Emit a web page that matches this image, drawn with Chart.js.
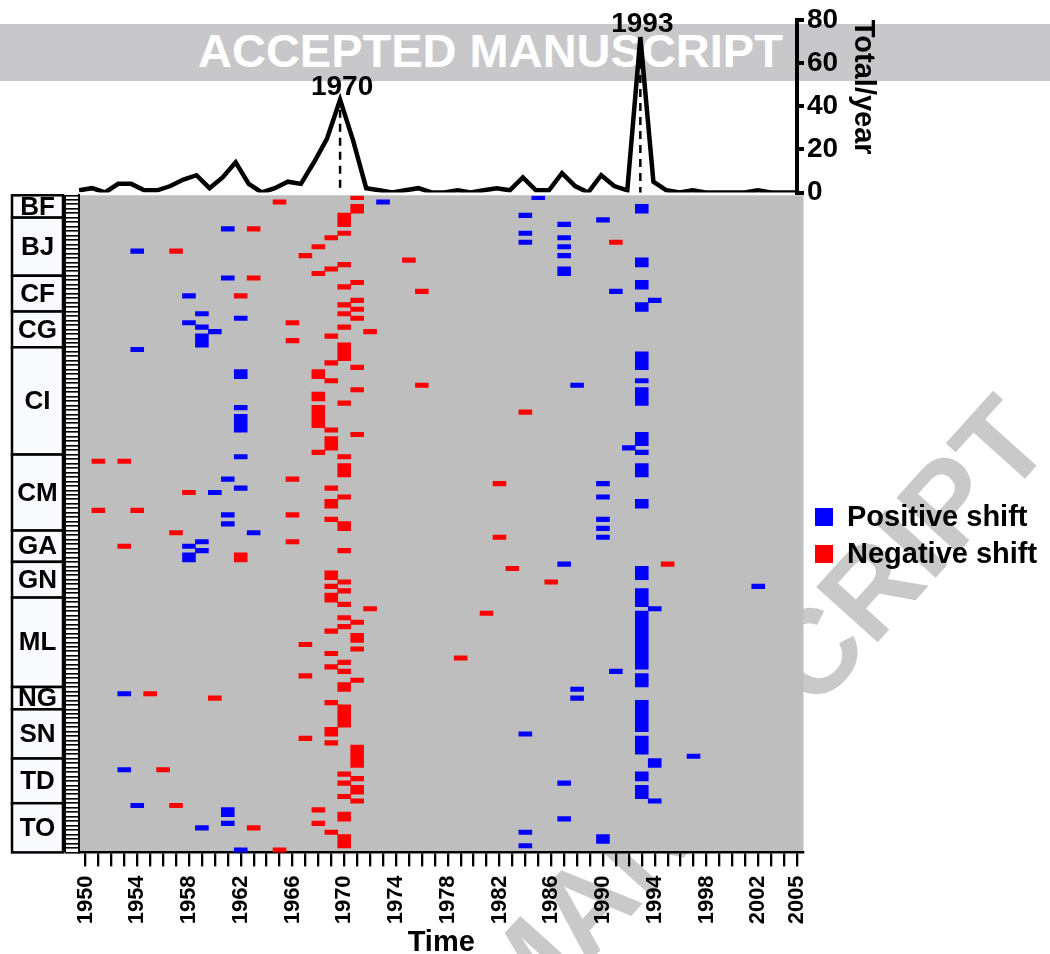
<!DOCTYPE html>
<html>
<head>
<meta charset="utf-8">
<script src="https://cdn.jsdelivr.net/npm/chart.js@4.4.1/dist/chart.umd.min.js"></script>
<style>
html,body{margin:0;padding:0;background:#fff;overflow:hidden;width:1050px;height:954px;position:relative;font-family:"Liberation Sans",Arial,sans-serif;}
#band{position:absolute;left:0;top:24px;width:1050px;height:57px;background:#c8c8ca;}
#band span{position:absolute;left:198px;top:-2px;line-height:57px;font-weight:bold;font-size:47px;color:#fff;white-space:nowrap;}
#diag{position:absolute;left:1024px;top:417px;width:0;height:0;transform:rotate(-48deg);transform-origin:0 0;}
#diag span{position:absolute;right:0;top:-60px;line-height:120px;font-size:120px;font-weight:bold;color:#c9c9c9;white-space:nowrap;}
canvas{position:absolute;left:0;top:0;}
</style>
</head>
<body>
<div id="band"><span>ACCEPTED MANUSCRIPT</span></div>
<div id="diag"><span>ACCEPTED MANUSCRIPT</span></div>
<canvas id="main" width="1050" height="990"></canvas>
<canvas id="top" width="1050" height="215"></canvas>
<script>
// ---------------- DATA ----------------
const countries = ['BF','BJ','CF','CG','CI','CM','GA','GN','ML','NG','SN','TD','TO'];
const stationsPerCountry = [5,13,8,8,24,17,7,8,20,5,11,10,11];

const totalYears = [1950,1951,1952,1953,1954,1955,1956,1957,1958,1959,1960,1961,1962,1963,1964,1965,1966,1967,1968,1969,
  1970,1971,1972,1973,1974,1975,1976,1977,1978,1979,1980,1981,1982,1983,1984,1985,1986,1987,1988,1989,
  1990,1991,1992,1993,1994,1995,1996,1997,1998,1999,2000,2001,2002,2003,2004,2005];
const totalPerYear = [1,2,0,4,4,1,1,3,6,8,2,7,14,4,0,2,5,4,14,25,
  43,24,2,1,0,1,2,0,0,1,0,1,2,1,7,1,1,9,3,0,
  8,3,1,72,5,1,0,1,0,0,0,0,1,0,0,0];

const tickLabelYears = [1950,1954,1958,1962,1966,1970,1974,1978,1982,1986,1990,1994,1998,2002,2005];
const peakYears = [1970, 1993];

// [year, first station row, last station row]
const positiveShifts = [
  [1973,1,1],[1961,7,7],[1954,12,12],[1961,18,18],[1958,22,22],[1959,26,26],[1962,27,27],[1958,28,28],
  [1959,29,29],[1960,30,30],[1959,31,33],[1954,34,34],[1962,39,40],[1962,47,47],[1962,49,52],[1962,58,58],
  [1961,63,63],[1962,65,65],[1960,66,66],[1961,71,71],[1961,73,73],[1963,75,75],[1959,77,77],[1958,78,78],
  [1959,79,79],[1958,80,81],[1953,111,111],[1953,128,128],[1954,136,136],[1961,137,138],[1961,140,140],
  [1959,141,141],[1962,146,146],
  [1985,0,0],[1993,2,3],[1984,4,4],[1990,5,5],[1987,6,6],[1984,8,8],[1987,9,9],[1984,10,10],[1987,11,11],
  [1987,13,13],[1993,14,15],[1987,16,17],[1993,19,20],[1991,21,21],[1994,23,23],[1993,24,25],[1993,35,38],
  [1993,41,41],[1988,42,42],[1993,43,46],[1993,53,55],[1992,56,56],[1993,57,57],[1993,60,62],[1990,64,64],
  [1990,67,67],[1993,68,69],[1990,72,72],[1990,74,74],[1990,76,76],[1987,82,82],[1993,83,85],[2002,87,87],
  [1993,88,91],[1994,92,92],[1993,93,105],[1991,106,106],[1993,107,109],[1988,110,110],[1988,112,112],
  [1993,113,119],[1984,120,120],[1993,121,124],[1997,125,125],[1994,126,127],[1993,129,130],[1987,131,131],
  [1993,132,134],[1994,135,135],[1987,139,139],[1984,142,142],[1990,143,144],[1984,145,145]
];
const negativeShifts = [
  [1971,0,0],[1965,1,1],[1971,2,3],[1970,4,6],[1963,7,7],[1970,8,8],[1969,9,9],[1968,11,11],[1957,12,12],
  [1967,13,13],[1975,14,14],[1970,15,15],[1969,16,16],[1968,17,17],[1963,18,18],[1971,19,19],[1970,20,20],
  [1976,21,21],[1962,22,22],[1971,23,23],[1970,24,24],[1971,25,25],[1970,26,26],[1971,27,27],[1966,28,28],
  [1970,29,29],[1972,30,30],[1969,31,31],[1966,32,32],[1970,33,36],[1969,37,37],[1971,38,38],[1968,39,40],
  [1969,41,41],[1976,42,42],[1971,43,43],[1968,44,45],[1970,46,46],[1968,47,51],[1969,52,52],[1971,53,53],
  [1969,54,56],[1968,57,57],[1970,58,58],[1951,59,59],[1953,59,59],[1970,60,62],[1966,63,63],[1969,65,65],
  [1958,66,66],[1970,67,67],[1969,68,69],[1951,70,70],[1954,70,70],[1966,71,71],[1969,72,72],[1970,73,74],
  [1957,75,75],[1966,77,77],[1953,78,78],[1970,79,79],[1962,80,81],[1969,84,85],[1970,86,86],[1969,87,87],
  [1970,88,88],[1969,89,90],[1970,91,91],[1972,92,92],[1970,94,94],[1971,95,95],[1970,96,96],[1969,97,97],
  [1971,98,99],[1967,100,100],[1971,101,101],[1969,102,102],[1970,104,104],[1969,105,105],[1970,106,106],
  [1967,107,107],[1971,108,108],[1970,109,110],[1955,111,111],[1960,112,112],[1969,113,113],[1970,114,118],
  [1969,119,120],[1967,121,121],[1969,122,122],[1971,123,127],[1956,128,128],[1970,129,129],[1971,130,130],
  [1970,131,131],[1971,132,133],[1970,134,134],[1971,135,135],[1957,136,136],[1968,137,137],[1970,138,139],
  [1968,140,140],[1963,141,141],[1969,142,142],[1970,143,145],[1965,146,146],
  [1991,10,10],[1984,48,48],[1982,64,64],[1982,76,76],[1995,82,82],[1983,83,83],[1986,86,86],[1981,93,93],[1979,103,103]
];

// ---------------- CHARTS ----------------
const FONT = '"Liberation Sans", Arial, sans-serif';
const nStations = stationsPerCountry.reduce((a, b) => a + b, 0);
const toBars = runs => runs.map(([yr, r0, r1]) => ({x: yr, y: [r0, r1 + 1]}));

const panelPlugin = {
  id: 'panel',
  beforeDraw(chart) {
    const {ctx, chartArea: a} = chart;
    ctx.save();
    ctx.fillStyle = '#bebebe';
    ctx.fillRect(a.left, a.top, a.right - a.left, a.bottom - a.top);
    ctx.restore();
  },
  afterDraw(chart) {
    const {ctx, scales: {y}} = chart;
    ctx.save();
    ctx.strokeStyle = '#000';
    ctx.lineWidth = 2;
    ctx.beginPath();
    ctx.moveTo(65, y.getPixelForValue(0));
    ctx.lineTo(65, y.getPixelForValue(nStations));
    ctx.stroke();
    let start = 0;
    countries.forEach((c, i) => {
      const end = start + stationsPerCountry[i];
      const y0 = y.getPixelForValue(start), y1 = y.getPixelForValue(end);
      ctx.fillStyle = '#f9fafe';
      ctx.fillRect(12, y0, 51, y1 - y0);
      ctx.fillStyle = '#000';
      ctx.font = 'bold 26px ' + FONT;
      ctx.textAlign = 'center';
      ctx.textBaseline = 'middle';
      ctx.fillText(c, 37.5, (y0 + y1) / 2 + 1);
      ctx.lineWidth = 2.5;
      ctx.strokeStyle = '#000';
      ctx.strokeRect(12, y0, 51, y1 - y0);
      start = end;
    });
    chart.data.datasets.forEach((ds, i) => {
      const cy = 517 + i * 37;
      ctx.fillStyle = ds.backgroundColor;
      ctx.fillRect(815, cy - 9, 18, 18);
      ctx.fillStyle = '#000';
      ctx.font = 'bold 29px ' + FONT;
      ctx.textAlign = 'left';
      ctx.textBaseline = 'middle';
      ctx.fillText(ds.label, 847, cy + 1);
    });
    ctx.restore();
  }
};

new Chart(document.getElementById('main'), {
  type: 'bar',
  data: {
    datasets: [
      {label: 'Positive shift', data: toBars(positiveShifts), backgroundColor: '#0000ff', borderWidth: 0,
       grouped: false, categoryPercentage: 1, barPercentage: 1},
      {label: 'Negative shift', data: toBars(negativeShifts), backgroundColor: '#ff0000', borderWidth: 0,
       grouped: false, categoryPercentage: 1, barPercentage: 1}
    ]
  },
  options: {
    responsive: false,
    animation: false,
    events: [],
    layout: {padding: {left: 0, top: 195.3, right: 246.5, bottom: 29.6}},
    plugins: {legend: {display: false}, tooltip: {enabled: false}},
    scales: {
      x: {
        type: 'linear', min: 1949.5, max: 2005.5, offset: false,
        afterBuildTicks(s) { s.ticks = totalYears.map(v => ({value: v})); },
        ticks: {
          autoSkip: false, maxRotation: 90, minRotation: 90, padding: 9, color: '#000',
          font: {size: 22, weight: 'bold', family: FONT},
          callback: v => tickLabelYears.includes(v) ? String(v) : ''
        },
        grid: {offset: false, drawOnChartArea: false, tickLength: 14, color: '#000', lineWidth: 2.3},
        border: {display: true, color: '#000', width: 2.5},
        title: {display: true, text: 'Time', color: '#000', font: {size: 29, weight: 'bold', family: FONT}, padding: 0},
        afterFit(s) { s.height = 108; }
      },
      y: {
        type: 'linear', min: 0, max: nStations, reverse: true, offset: false,
        afterBuildTicks(s) { const t = []; for (let i = 0; i <= nStations; i++) t.push({value: i}); s.ticks = t; },
        ticks: {display: false},
        grid: {offset: false, drawOnChartArea: false, tickLength: 14, color: '#000', lineWidth: 1.6},
        border: {display: true, color: '#000', width: 2},
        afterFit(s) { s.width = 79; }
      }
    }
  },
  plugins: [panelPlugin]
});

const peakPlugin = {
  id: 'peaks',
  afterDatasetsDraw(chart) {
    const {ctx, scales: {x, y}} = chart;
    peakYears.forEach(yr => {
      const v = totalPerYear[totalYears.indexOf(yr)];
      const px = x.getPixelForValue(yr);
      const py = y.getPixelForValue(v);
      ctx.save();
      ctx.strokeStyle = '#000';
      ctx.lineWidth = 2.5;
      ctx.setLineDash([8, 6]);
      ctx.beginPath();
      ctx.moveTo(px, py + 10);
      ctx.lineTo(px, y.getPixelForValue(0));
      ctx.stroke();
      ctx.setLineDash([]);
      ctx.fillStyle = '#000';
      ctx.font = 'bold 28px ' + FONT;
      ctx.textAlign = 'center';
      ctx.textBaseline = 'alphabetic';
      ctx.fillText(String(yr), px + 2, py - 5);
      ctx.restore();
    });
  }
};

new Chart(document.getElementById('top'), {
  type: 'line',
  data: {
    datasets: [{
      label: 'Total/year',
      data: totalYears.map((yr, i) => ({x: yr, y: totalPerYear[i]})),
      borderColor: '#000', borderWidth: 4.5, pointRadius: 0, tension: 0,
      borderJoinStyle: 'miter', fill: false
    }]
  },
  options: {
    responsive: false,
    animation: false,
    events: [],
    layout: {padding: {left: 79, top: 16, right: 170, bottom: 22.5}},
    plugins: {legend: {display: false}, tooltip: {enabled: false}},
    scales: {
      x: {type: 'linear', min: 1950, max: 2005, display: false},
      y: {
        type: 'linear', position: 'right', min: 0, max: 80,
        ticks: {stepSize: 20, color: '#000', padding: 3, font: {size: 28, weight: 'bold', family: FONT}},
        grid: {drawOnChartArea: false, tickLength: 7, color: '#000', lineWidth: 4},
        border: {display: true, color: '#000', width: 4},
        title: {display: true, text: 'Total/year', color: '#000', align: 'end', padding: 0,
                font: {size: 29, weight: 'bold', family: FONT}},
        afterFit(s) { s.width = 83; }
      }
    }
  },
  plugins: [peakPlugin]
});
</script>
</body>
</html>
